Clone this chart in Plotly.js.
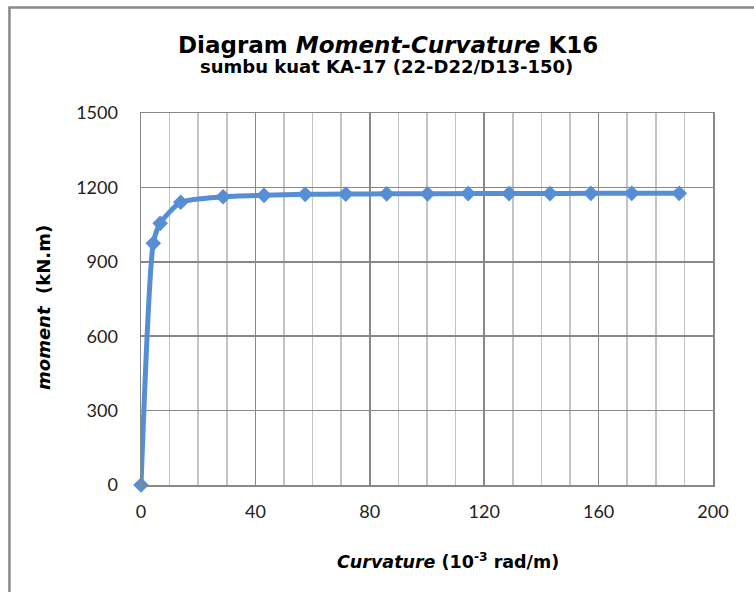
<!DOCTYPE html>
<html>
<head>
<meta charset="utf-8">
<script src="https://cdn.plot.ly/plotly-3.0.1.min.js"></script>
<style>
html,body{margin:0;padding:0;background:#fff;}
#chart{width:754px;height:592px;}
</style>
</head>
<body>
<div id="chart"></div>
<script>
// Data
const curvature = [0, 4.3, 6.7, 13.9, 28.7, 43.0, 57.4, 71.6, 85.9, 100.2, 114.4, 128.7, 143.0, 157.3, 171.6, 188.2];
const moment    = [0, 975, 1055, 1140, 1162, 1168, 1172, 1173, 1174, 1174, 1175, 1175, 1175, 1176, 1176, 1176];
const xTicks = [0, 40, 80, 120, 160, 200];
const yTicks = [0, 300, 600, 900, 1200, 1500];

const titleMain = "<b>Diagram <i>Moment-Curvature</i> K16</b>";
const titleSub = "<b>sumbu kuat KA-17 (22-D22/D13-150)</b>";
const xTitle = "<b><i>Curvature</i> (10<sup>-3</sup> rad/m)</b>";
const yTitle = "<b><i>moment</i>  (kN.m)</b>";

const blue = '#558ed5';
const dark = '#888888';
const light = '#c3c3c3';

const trace = {
  x: curvature, y: moment,
  type: 'scatter', mode: 'lines+markers',
  line: {color: blue, width: 5, shape: 'spline', smoothing: 0.6},
  marker: {symbol: 'diamond', size: 12, color: blue},
  hoverinfo: 'skip', cliponaxis: false
};

const tickFont = {family: 'Lato, "Open Sans", sans-serif', size: 18, color: '#222'};

const layout = {
  width: 754, height: 592,
  margin: {l: 141, r: 41, t: 113, b: 107},
  paper_bgcolor: '#fff', plot_bgcolor: '#fff',
  showlegend: false,
  xaxis: {
    range: [0, 200], tickvals: xTicks, ticktext: xTicks.map(String),
    showgrid: true, gridcolor: dark, gridwidth: 1.5,
    minor: {dtick: 10, tick0: 0, showgrid: true, gridcolor: light, gridwidth: 1.5},
    showline: true, linecolor: dark, linewidth: 1.5, mirror: true,
    zeroline: false, ticks: '', tickfont: tickFont, ticklabelstandoff: 10,
    fixedrange: true
  },
  yaxis: {
    range: [0, 1500], tickvals: yTicks, ticktext: yTicks.map(String),
    showgrid: true, gridcolor: dark, gridwidth: 1.5,
    showline: true, linecolor: dark, linewidth: 1.5, mirror: true,
    zeroline: false, ticks: '', tickfont: tickFont, ticklabelstandoff: 18,
    fixedrange: true
  },
  shapes: [{
    type: 'rect', xref: 'paper', yref: 'paper',
    x0: -0.23, x1: 2, y0: -2, y1: 1.2836,
    line: {color: dark, width: 2.5}, fillcolor: 'rgba(0,0,0,0)', layer: 'below'
  }],
  annotations: [
    {text: titleMain, xref: 'paper', yref: 'paper', x: 0.4318, y: 1.1815,
     xanchor: 'center', yanchor: 'middle', showarrow: false,
     font: {family: '"DejaVu Sans", Verdana, sans-serif', size: 23, color: '#000'}},
    {text: titleSub, xref: 'paper', yref: 'paper', x: 0.4292, y: 1.1245,
     xanchor: 'center', yanchor: 'middle', showarrow: false,
     font: {family: '"DejaVu Sans", Verdana, sans-serif', size: 18, color: '#000'}},
    {text: xTitle, xref: 'paper', yref: 'paper', x: 0.5367, y: -0.2043,
     xanchor: 'center', yanchor: 'middle', showarrow: false,
     font: {family: '"DejaVu Sans", Verdana, sans-serif', size: 17.5, color: '#000'}},
    {text: yTitle, xref: 'paper', yref: 'paper', x: -0.1696, y: 0.4785,
     xanchor: 'center', yanchor: 'middle', showarrow: false, textangle: -90,
     font: {family: '"DejaVu Sans", Verdana, sans-serif', size: 18, color: '#000'}}
  ]
};

Plotly.newPlot('chart', [trace], layout, {displayModeBar: false, staticPlot: true});
</script>
</body>
</html>
